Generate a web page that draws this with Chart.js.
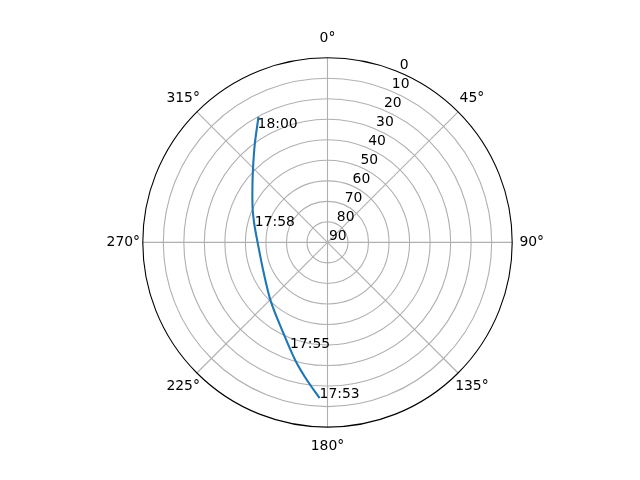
<!DOCTYPE html>
<html>
<head>
<meta charset="utf-8">
<script src="https://cdn.jsdelivr.net/npm/chart.js@4.4.1/dist/chart.umd.min.js"></script>
<style>
  html, body { margin: 0; padding: 0; background: #ffffff; }
  #skyChart { display: block; }
</style>
</head>
<body>
<canvas id="skyChart" width="640" height="480"></canvas>
<script>
// satellite track: azimuth (deg, clockwise from north) and elevation (deg)
var trackAz = [182.9, 188.6, 195.4, 205.9, 223.5, 245.5, 273.3, 283.4, 293.4, 303.1, 314.1, 323.7, 331.2];
var trackEl = [14.0, 22.3, 30.6, 40.8, 50.0, 55.7, 55.5, 53.4, 50.3, 46.3, 39.4, 30.2, 20.2];

// time labels along the track
var labelTimes = ["17:53", "17:55", "17:58", "18:00"];
var labelAz = [182.9, 199.5, 282.7, 328.5];
var labelEl = [14.0, 35.4, 53.7, 24.8];

// tick labels
var angleTicks = [0, 45, 90, 135, 180, 225, 270, 315];
var radialTicks = [0, 10, 20, 30, 40, 50, 60, 70, 80, 90];

var FONT = "13.9px 'DejaVu Sans'";

// elevation 90 sits in the middle, 0 on the rim
function toXY(az, el) {
    var r = 90 - el;
    var a = az * Math.PI / 180;
    return { x: r * Math.sin(a), y: r * Math.cos(a) };
}

var trackPoints = trackAz.map(function (az, i) {
    return toXY(az, trackEl[i]);
});

//draws the rings, spokes and labels of the polar frame using the chart's own scales
var polarFrame = {
    id: "polarFrame",
    beforeDatasetsDraw: function (chart) {
        var ctx = chart.ctx;
        var xs = chart.scales.x;
        var ys = chart.scales.y;
        var cx = xs.getPixelForValue(0);
        var cy = ys.getPixelForValue(0);
        var R = xs.getPixelForValue(90) - cx;

        ctx.save();
        ctx.strokeStyle = "#b0b0b0";
        ctx.lineWidth = 1.1;
        radialTicks.forEach(function (el) {
            var rPx = xs.getPixelForValue(90 - el) - cx;
            if (rPx <= 0 || el === 0) return;
            ctx.beginPath();
            ctx.arc(cx, cy, rPx, 0, Math.PI * 2);
            ctx.stroke();
        });
        angleTicks.forEach(function (az) {
            var a = az * Math.PI / 180;
            ctx.beginPath();
            ctx.moveTo(cx, cy);
            ctx.lineTo(cx + R * Math.sin(a), cy - R * Math.cos(a));
            ctx.stroke();
        });

        // outer rim
        ctx.strokeStyle = "#000000";
        ctx.beginPath();
        ctx.arc(cx, cy, R, 0, Math.PI * 2);
        ctx.stroke();
        ctx.restore();
    },
    afterDatasetsDraw: function (chart) {
        var ctx = chart.ctx;
        var xs = chart.scales.x;
        var ys = chart.scales.y;
        var cx = xs.getPixelForValue(0);
        var cy = ys.getPixelForValue(0);
        var R = xs.getPixelForValue(90) - cx;

        ctx.save();
        ctx.fillStyle = "#000000";
        ctx.font = FONT;

        // angle labels round the outside
        ctx.textAlign = "center";
        ctx.textBaseline = "middle";
        angleTicks.forEach(function (az) {
            var a = az * Math.PI / 180;
            var d = R + 19.5;
            ctx.fillText(az + "\u00b0", cx + d * Math.sin(a), cy - d * Math.cos(a));
        });

        // elevation labels along the 22.5 deg spoke
        ctx.textAlign = "left";
        ctx.textBaseline = "alphabetic";
        radialTicks.forEach(function (el) {
            var p = toXY(22.5, el);
            var px = xs.getPixelForValue(p.x);
            var py = ys.getPixelForValue(p.y);
            ctx.fillText(String(el), px + 1.5, py - 2.8);
        });

        // time labels on the track
        labelTimes.forEach(function (t, i) {
            var p = toXY(labelAz[i], labelEl[i]);
            ctx.fillText(t, xs.getPixelForValue(p.x), ys.getPixelForValue(p.y));
        });
        ctx.restore();
    }
};

var skyCanvas = document.getElementById("skyChart");

var skyChart = new Chart(skyCanvas, {
    type: "scatter",
    data: {
        datasets: [{
            data: trackPoints,
            showLine: true,
            borderColor: "#1f77b4",
            borderWidth: 2.1,
            pointRadius: 0,
            tension: 0.3,
            fill: false
        }]
    },
    options: {
        responsive: false,
        animation: false,
        devicePixelRatio: 1,
        layout: {
            padding: { left: 142.8, right: 127.8, top: 57.7, bottom: 52.9 }
        },
        scales: {
            x: { type: "linear", min: -90, max: 90, display: false },
            y: { type: "linear", min: -90, max: 90, display: false }
        },
        plugins: {
            legend: { display: false },
            tooltip: { enabled: false }
        }
    },
    plugins: [polarFrame]
});
</script>
</body>
</html>
